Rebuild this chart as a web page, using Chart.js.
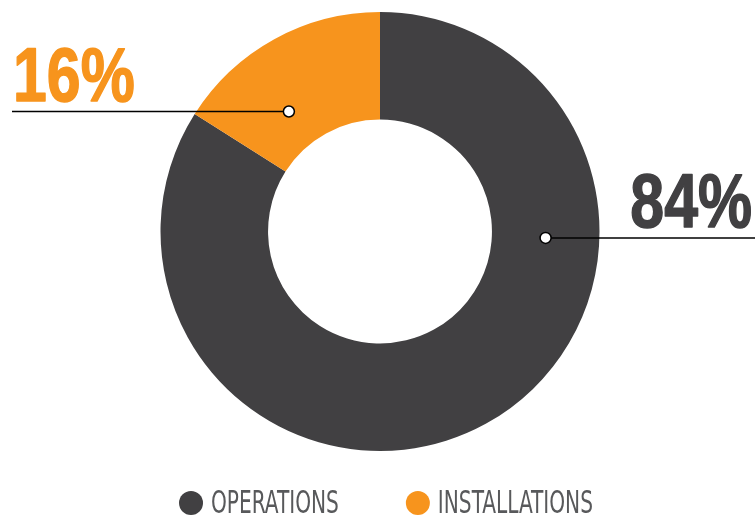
<!DOCTYPE html>
<html>
<head>
<meta charset="utf-8">
<script src="https://cdn.jsdelivr.net/npm/chart.js@4"></script>
<style>
  html, body { margin: 0; padding: 0; background: #fff; }
  #wrap { width: 755px; height: 516px; }
</style>
</head>
<body>
<div id="wrap"><canvas id="doughnutChart"></canvas></div>
<script>
// data
const labels = ['OPERATIONS', 'INSTALLATIONS'];
const values = [84, 16];
const colors = ['#414042', '#f7941d'];

// where each leader dot sits in its slice: share of the slice angle, share of the ring width
const anchorAngle = [0.305, 0.354];
const anchorRing = [0.5, 0.36];

// draw text squeezed sideways, to get close to a condensed face
function narrowText(ctx, txt, x, y, sx, outline) {
    ctx.save();
    ctx.translate(x, y);
    ctx.scale(sx, 1);
    ctx.textAlign = 'left';
    ctx.fillText(txt, 0, 0);
    if (outline) {
        ctx.lineWidth = outline;
        ctx.lineJoin = 'round';
        ctx.strokeStyle = ctx.fillStyle;
        ctx.strokeText(txt, 0, 0);
    }
    ctx.restore();
}

// leader lines with the big percent labels
const leaders = {
    id: 'leaders',
    afterDatasetsDraw(chart) {
        const ctx = chart.ctx;
        const meta = chart.getDatasetMeta(0);
        const total = values.reduce((a, b) => a + b, 0);
        meta.data.forEach((arc, i) => {
            const p = arc.getProps(['x', 'y', 'startAngle', 'endAngle', 'innerRadius', 'outerRadius'], true);
            const a = p.startAngle + anchorAngle[i] * (p.endAngle - p.startAngle);
            const r = p.innerRadius + anchorRing[i] * (p.outerRadius - p.innerRadius);
            const dx = p.x + Math.cos(a) * r;
            const dy = p.y + Math.sin(a) * r;
            const right = Math.cos(a) > 0;
            const edge = right ? chart.width : 12;

            ctx.save();
            ctx.strokeStyle = '#000';
            ctx.lineWidth = 1.5;
            ctx.beginPath();
            ctx.moveTo(dx, dy);
            ctx.lineTo(edge, dy);
            ctx.stroke();
            ctx.beginPath();
            ctx.arc(dx, dy, 5.5, 0, Math.PI * 2);
            ctx.fillStyle = '#fff';
            ctx.fill();
            ctx.stroke();

            const txt = Math.round(values[i] / total * 100) + '%';
            ctx.font = 'bold 76px "Liberation Sans", Arial, sans-serif';
            ctx.fillStyle = colors[i];
            ctx.textBaseline = 'alphabetic';
            const sx = 0.8;
            const w = ctx.measureText(txt).width * sx;
            narrowText(ctx, txt, right ? chart.width - 3 - w : 13, dy - 11, sx, 1.5);
            ctx.restore();
        });
    }
};

// legend under the ring, drawn by hand so the labels can be condensed
const bottomLegend = {
    id: 'bottomLegend',
    afterDraw(chart) {
        const ctx = chart.ctx;
        const sx = 0.7, dotR = 12, dotGap = 8, itemGap = 67;
        const y = 505;
        ctx.save();
        ctx.font = '32px "DejaVu Sans Condensed", "DejaVu Sans", sans-serif';
        ctx.textBaseline = 'middle';
        const widths = labels.map(l => ctx.measureText(l).width * sx);
        const total = widths.reduce((a, b) => a + b, 0) + labels.length * (dotR * 2 + dotGap) + (labels.length - 1) * itemGap;
        const area = chart.chartArea;
        let x = (area.left + area.right) / 2 + 6 - total / 2;
        labels.forEach((l, i) => {
            ctx.beginPath();
            ctx.arc(x + dotR, y - 2, dotR, 0, Math.PI * 2);
            ctx.fillStyle = colors[i];
            ctx.fill();
            x += dotR * 2 + dotGap;
            ctx.fillStyle = '#58595b';
            narrowText(ctx, l, x, y, sx);
            x += widths[i] + itemGap;
        });
        ctx.restore();
    }
};

//setup
const data = {
    labels: labels,
    datasets: [{
        data: values,
        backgroundColor: colors,
        borderWidth: 0,
        radius: 219.5,
        cutout: '51%'
    }]
};

// configuration
const config = {
    type: 'doughnut',
    data: data,
    options: {
        responsive: true,
        maintainAspectRatio: false,
        animation: false,
        layout: { padding: { top: 12, left: 5, right: 0, bottom: 65 } },
        plugins: {
            tooltip: { enabled: false },
            legend: { display: false }
        }
    },
    plugins: [leaders, bottomLegend]
};

//render
new Chart(document.getElementById('doughnutChart'), config);
</script>
</body>
</html>
